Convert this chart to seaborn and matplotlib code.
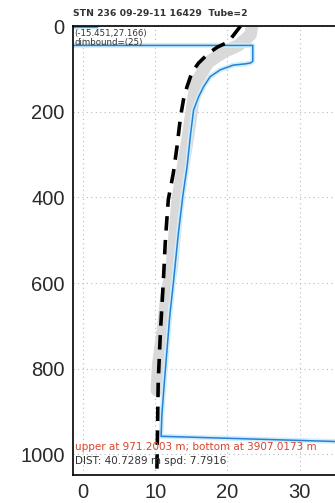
import numpy as np
import pandas as pd
import matplotlib
matplotlib.use("Agg")
import matplotlib.pyplot as plt
import seaborn as sns

# mean profile (black dashed)
mean_temp = [21.8, 20.1, 18.6, 17.4, 16.0, 15.1, 14.4, 13.9, 13.5, 13.0, 12.5, 11.8,
             11.4, 11.1, 10.7, 10.4, 10.3, 10.2]
mean_depth = [0, 37, 49, 63, 86, 107, 141, 172, 211, 282, 343, 405,
              498, 600, 717, 832, 950, 1060]

# spread band (light gray)
band_temp = [23.5, 23.2, 21.5, 19.5, 17.3, 15.6, 14.6, 13.1, 12.3, 11.5, 11.0, 10.4, 10.2]
band_depth = [-10, 20, 45, 60, 85, 133, 250, 405, 560, 637, 717, 790, 850]

# sensor profile (blue)
blue_temp = [2.0, -3.0, -3.0, 23.5, 23.5, 23.2, 22.5, 20.8, 19.0, 17.6, 16.7, 16.0,
             15.3, 14.9, 14.4, 13.8, 13.2, 12.5, 12.0, 11.25, 10.9, 10.8,
             34.7, 36.5, 36.5]
blue_depth = [2, 2, 45, 45, 82, 86, 88, 91, 102, 118, 141, 165,
              196, 250, 328, 398, 483, 600, 677, 832, 910, 958,
              970, 972, 1040]

x_ticks = [0, 10, 20, 30]
y_ticks = [0, 200, 400, 600, 800, 1000]

title_text = "STN 236 09-29-11 16429  Tube=2"
pos_text = "(-15.451,27.166)"
dim_text = "dimbound=(25)"
red_text = "upper at 971.2003 m; bottom at 3907.0173 m"
dist_text = "DIST: 40.7289 m spd: 7.7916"

sns.set_style("white")
plt.rcParams['font.family'] = ['Liberation Sans', 'DejaVu Sans']

fig = plt.figure(figsize=(3.35, 5.03), dpi=100)
ax = fig.add_axes([0.218, 0.056, 0.892, 0.892])

mean_df = pd.DataFrame({"temp": mean_temp, "depth": mean_depth})
band_df = pd.DataFrame({"temp": band_temp, "depth": band_depth})
blue_df = pd.DataFrame({"temp": blue_temp, "depth": blue_depth})

sns.lineplot(data=band_df, x="temp", y="depth", sort=False, estimator=None,
             color="#d9d9d9", lw=9, ax=ax, solid_capstyle="round",
             solid_joinstyle="round")
sns.lineplot(data=blue_df, x="temp", y="depth", sort=False, estimator=None,
             color="#cdeefc", lw=3.5, ax=ax, solid_joinstyle="round")
sns.lineplot(data=blue_df, x="temp", y="depth", sort=False, estimator=None,
             color="#2a7fd4", lw=1.1, ax=ax, solid_joinstyle="round")
sns.lineplot(data=mean_df, x="temp", y="depth", sort=False, estimator=None,
             color="black", lw=2.6, ax=ax, dashes=False, linestyle=(0, (4, 2.6)))

ax.set_xlim(-1.4, 40)
ax.set_ylim(1048, 0)
ax.set_xticks(x_ticks)
ax.set_yticks(y_ticks)
ax.set_xlabel("")
ax.set_ylabel("")
ax.tick_params(axis="both", direction="in", length=3, labelsize=14.5,
               colors="#444444")
ax.tick_params(axis="x", pad=6, labelcolor="#2a2a2a")
ax.tick_params(axis="y", pad=6, labelcolor="#2a2a2a")
ax.grid(True, linestyle=(0, (1, 3)), color="#bbbbbb", lw=0.8)
for s in ax.spines.values():
    s.set_color("black")
    s.set_linewidth(1.2)

small = ['DejaVu Sans']
ax.text(0.0, 1.018, title_text, transform=ax.transAxes, fontsize=6.7,
        fontweight="bold", color="#333333", va="bottom", ha="left", family=small)
ax.text(0.005, 0.994, pos_text, transform=ax.transAxes, fontsize=6.2,
        color="#333333", va="top", ha="left", family=small)
ax.text(0.005, 0.974, dim_text, transform=ax.transAxes, fontsize=6.2,
        color="#333333", va="top", ha="left", family=small)
ax.text(0.005, 0.063, red_text, transform=ax.transAxes, fontsize=7.5,
        color="#d9442c", va="center", ha="left", family=small)
ax.text(0.005, 0.031, dist_text, transform=ax.transAxes, fontsize=7.5,
        color="#333333", va="center", ha="left", family=small)

fig.savefig("out.png", dpi=100)
